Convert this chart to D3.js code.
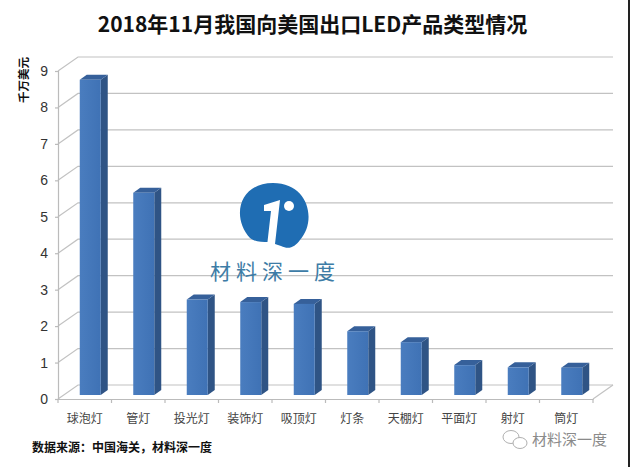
<!DOCTYPE html>
<html>
<head>
<meta charset="utf-8">
<script src="https://cdn.jsdelivr.net/npm/d3@7"></script>
<style>
  body { margin: 0; background: #fff; }
  svg { display: block; }
  text { font-family: "Noto Sans CJK SC", sans-serif; }
  .num { font-family: "Liberation Sans", sans-serif; }
</style>
</head>
<body>
<div id="chart"></div>
<script>
const categories = ['球泡灯', '管灯', '投光灯', '装饰灯', '吸顶灯', '灯条', '天棚灯', '平面灯', '射灯', '筒灯'];
const values = [8.65, 5.55, 2.62, 2.55, 2.5, 1.75, 1.45, 0.82, 0.76, 0.75];
const yTicks = [0, 1, 2, 3, 4, 5, 6, 7, 8, 9];
const titleText = '2018年11月我国向美国出口LED产品类型情况';
const unitText = '千万美元';
const sourceText = '数据来源：中国海关，材料深一度';
const brandText = '材料深一度';

const w = 630, h = 467;
const svg = d3.select('#chart').append('svg').attr('width', w).attr('height', h);

// front plane of the fake 3d box
const x = d3.scaleBand().domain(categories).range([58, 593]);
const y = d3.scaleLinear().domain([0, 9]).range([399, 71]);
const wall = {dx: 20, dy: -14};   // back wall offset
const barPlane = {dx: 5.5, dy: -4};
const barW = 21;
const depth = {dx: 7, dy: -5};

// dark strip down the right edge of the picture
svg.append('rect').attr('x', 628).attr('y', 0).attr('width', 2).attr('height', h).attr('fill', '#222');

// Grid: wall line + slanted line on the left side
const grid = svg.append('g').attr('stroke', '#c2c2c2').attr('stroke-width', 1.2).attr('fill', 'none');
yTicks.forEach(t => {
  grid.append('path').attr('d', d3.line()([
    [x.range()[0], y(t)],
    [x.range()[0] + wall.dx, y(t) + wall.dy],
    [x.range()[1] + wall.dx, y(t) + wall.dy]
  ]));
});
// floor, right edge
grid.append('path').attr('d', d3.line()([
  [x.range()[1], y(0)],
  [x.range()[1] + wall.dx, y(0) + wall.dy]
]));

// Axes
const yAxis = d3.axisLeft(y).tickValues(yTicks).tickSize(3).tickPadding(7);
const yAxisCont = svg.append('g').attr('transform', `translate(${x.range()[0]},0)`).call(yAxis);
yAxisCont.selectAll('text').attr('class', 'num').style('font-size', '14px').attr('fill', '#333');
yAxisCont.selectAll('line, path').attr('stroke', '#bbb').attr('stroke-width', 1.2);

const xAxis = d3.axisBottom(x).tickSize(0).tickPadding(15);
const xAxisCont = svg.append('g').attr('transform', `translate(0,${y(0)})`).call(xAxis);
xAxisCont.select('.domain').attr('stroke', '#bbb').attr('stroke-width', 1.2);
xAxisCont.selectAll('text').style('font-size', '12px').attr('fill', '#444');
xAxisCont.selectAll('.tick line').remove();
// tick marks sit between the categories
const edges = categories.map(c => x(c)).concat([x.range()[1]]);
xAxisCont.selectAll('.edge').data(edges).enter().append('line').attr('class', 'edge')
  .attr('x1', d => d).attr('x2', d => d).attr('y1', 0).attr('y2', 4)
  .attr('stroke', '#bbb').attr('stroke-width', 1.2);

// Gradient on the bar faces
const grad = svg.append('defs').append('linearGradient').attr('id', 'front');
grad.append('stop').attr('offset', '0').attr('stop-color', '#4a7dbf');
grad.append('stop').attr('offset', '1').attr('stop-color', '#3f72b5');

// Bars
const barX = c => x(c) + x.bandwidth() / 2 - barW / 2 + barPlane.dx;
const barY = v => y(v) + barPlane.dy;
const bars = svg.append('g').selectAll('g').data(categories).enter().append('g');
bars.append('path').attr('fill', '#2f5485').attr('d', (c, i) => {
  const x1 = barX(c) + barW, t = barY(values[i]), b = barY(0);
  return d3.line()([[x1, t], [x1 + depth.dx, t + depth.dy], [x1 + depth.dx, b + depth.dy], [x1, b]]) + 'Z';
});
bars.append('path').attr('fill', '#36609a').attr('d', (c, i) => {
  const x0 = barX(c), t = barY(values[i]);
  return d3.line()([[x0, t], [x0 + depth.dx, t + depth.dy], [x0 + barW + depth.dx, t + depth.dy], [x0 + barW, t]]) + 'Z';
});
bars.append('rect').attr('fill', 'url(#front)')
  .attr('x', c => barX(c)).attr('width', barW)
  .attr('y', (c, i) => barY(values[i]))
  .attr('height', (c, i) => barY(0) - barY(values[i]));

// Title and notes
svg.append('text').attr('x', 312.5).attr('y', 32).attr('text-anchor', 'middle')
  .style('font-size', '21px').style('font-weight', 700).attr('fill', '#111').text(titleText);
svg.append('text').attr('transform', 'translate(28,103) rotate(-90)')
  .style('font-size', '11.5px').style('font-weight', 700).attr('fill', '#111').text(unitText);
svg.append('text').attr('x', 32).attr('y', 452)
  .style('font-size', '12px').style('font-weight', 700).attr('fill', '#111').text(sourceText);

// Logo in the middle
const logo = svg.append('g').attr('transform', 'translate(273,215)');
logo.append('path').attr('fill', '#1f6db3')
  .attr('d', 'M-23,23 C-42,2 -34,-32 0,-32 C36,-32 44,6 27,25 C22,32 16,35 8,31 L-4,27 C-12,27 -18,27 -23,23Z');
logo.append('path').attr('fill', '#fff')
  .attr('d', 'M-9,-10 L7,-15 L2,29 L-6,31 L-2,-4 L-9,-4Z');
logo.append('circle').attr('cx', 16).attr('cy', -9).attr('r', 5).attr('fill', '#fff');
svg.append('text').attr('x', 275).attr('y', 279).attr('text-anchor', 'middle')
  .style('font-size', '21px').style('letter-spacing', '5px').attr('fill', '#3d7ca6').text(brandText);

// WeChat watermark
const wx = svg.append('g').attr('transform', 'translate(515,440)')
  .attr('fill', 'none').attr('stroke', '#b0b0b0').attr('stroke-width', 1);
wx.append('ellipse').attr('cx', -4).attr('cy', -3).attr('rx', 8).attr('ry', 6.5);
wx.append('ellipse').attr('cx', 5).attr('cy', 3).attr('rx', 7).attr('ry', 5.5).attr('fill', '#fff');
svg.append('text').attr('x', 532).attr('y', 445)
  .style('font-size', '15px').attr('fill', '#8a8a8a').text(brandText);
</script>
</body>
</html>
